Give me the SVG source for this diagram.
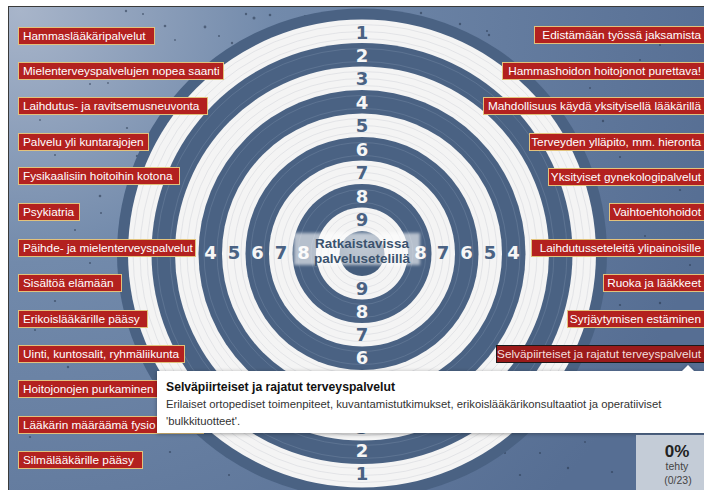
<svg xmlns="http://www.w3.org/2000/svg" width="704" height="490" viewBox="0 0 704 490">
<defs>
<radialGradient id="bg" cx="20" cy="10" r="720" gradientUnits="userSpaceOnUse">
<stop offset="0" stop-color="#a8b5ca"/>
<stop offset="0.35" stop-color="#728aab"/>
<stop offset="1" stop-color="#566e93"/>
</radialGradient>
<radialGradient id="core" cx="362" cy="240" r="26" gradientUnits="userSpaceOnUse">
<stop offset="0" stop-color="#6b819c"/>
<stop offset="1" stop-color="#455d7c"/>
</radialGradient>
<filter id="soft" x="-10%" y="-30%" width="120%" height="160%"><feGaussianBlur stdDeviation="1.6"/></filter>
<filter id="shadow" x="-5%" y="-20%" width="110%" height="150%"><feDropShadow dx="0" dy="1" stdDeviation="2" flood-color="#000" flood-opacity="0.35"/></filter>
<style>
.lbl rect{fill:#b3211f;stroke:#e2c27c;stroke-width:1}
.lbl text{font-family:"Liberation Sans",Arial,sans-serif;font-size:11.8px;fill:#ffffff}
.sel rect{fill:#9b1a1a;stroke:#1a1a1a;stroke-width:1}
.sel text{font-family:"Liberation Sans",Arial,sans-serif;font-size:11.8px;fill:#f3dede}
.r text{text-anchor:end}
.dk{fill:#4a6283}
.wt{fill:#f4f4f4}
.num{font-family:"DejaVu Sans",Verdana,sans-serif;font-weight:bold;font-size:18px;text-anchor:middle}
.nd{fill:#4a6283}
.nw{fill:#f6f6f6}
.gw{fill:none;stroke:#c9cdd3;stroke-width:0.7;opacity:0.6}
.gd{fill:none;stroke:#6c819e;stroke-width:0.8;opacity:0.7}
.sp{fill:#26354a;opacity:0.55}
.tt{font-family:"Liberation Sans",Arial,sans-serif}
</style>
</defs>
<rect x="0" y="0" width="704" height="490" fill="#ffffff"/>
<rect x="8" y="6" width="700" height="490" fill="url(#bg)"/>
<g id="speckles">
<circle class="sp" cx="126" cy="11" r="1.2"/><circle class="sp" cx="143" cy="14" r="1"/><circle class="sp" cx="165" cy="26" r="1.3"/><circle class="sp" cx="205" cy="27" r="1.4"/><circle class="sp" cx="219" cy="36" r="1"/><circle class="sp" cx="175" cy="40" r="0.9"/><circle class="sp" cx="232" cy="43" r="1.2"/><circle class="sp" cx="90" cy="84" r="1"/><circle class="sp" cx="108" cy="83" r="0.9"/><circle class="sp" cx="127" cy="128" r="1.1"/><circle class="sp" cx="55" cy="155" r="1"/><circle class="sp" cx="137" cy="156" r="1.2"/><circle class="sp" cx="100" cy="196" r="1.3"/><circle class="sp" cx="101" cy="213" r="1"/><circle class="sp" cx="90" cy="263" r="1"/><circle class="sp" cx="55" cy="301" r="1.1"/><circle class="sp" cx="68" cy="367" r="1.2"/><circle class="sp" cx="30" cy="437" r="1.1"/><circle class="sp" cx="170" cy="452" r="1.1"/><circle class="sp" cx="229" cy="475" r="1"/><circle class="sp" cx="246" cy="14" r="1.2"/><circle class="sp" cx="254" cy="18" r="1.5"/><circle class="sp" cx="270" cy="15" r="1.3"/><circle class="sp" cx="305" cy="16" r="1.1"/><circle class="sp" cx="405" cy="14" r="1"/><circle class="sp" cx="421" cy="13" r="1.2"/><circle class="sp" cx="460" cy="24" r="1.2"/><circle class="sp" cx="487" cy="31" r="1"/><circle class="sp" cx="489" cy="35" r="1.2"/><circle class="sp" cx="590" cy="88" r="0.9"/><circle class="sp" cx="603" cy="121" r="1.2"/><circle class="sp" cx="620" cy="157" r="1"/><circle class="sp" cx="680" cy="190" r="1.1"/><circle class="sp" cx="645" cy="236" r="0.9"/><circle class="sp" cx="660" cy="303" r="1.2"/><circle class="sp" cx="620" cy="305" r="1.1"/><circle class="sp" cx="583" cy="340" r="1"/><circle class="sp" cx="540" cy="453" r="1"/><circle class="sp" cx="568" cy="468" r="1.2"/><circle class="sp" cx="612" cy="472" r="1.1"/><circle class="sp" cx="585" cy="442" r="0.9"/><circle class="sp" cx="505" cy="453" r="1"/><circle class="sp" cx="660" cy="45" r="1"/><circle class="sp" cx="40" cy="120" r="0.9"/><circle class="sp" cx="75" cy="230" r="1"/><circle class="sp" cx="35" cy="330" r="1"/><circle class="sp" cx="150" cy="420" r="1.1"/><circle class="sp" cx="640" cy="60" r="1"/><circle class="sp" cx="690" cy="265" r="1"/><circle class="sp" cx="630" cy="410" r="1"/><circle class="sp" cx="520" cy="475" r="1.1"/>
</g>
<g id="target">
<circle class="dk" cx="362" cy="253.5" r="245"/>
<circle class="wt" cx="362" cy="253.5" r="234"/>
<circle class="gw" cx="362" cy="253.5" r="229"/><circle class="gw" cx="362" cy="253.5" r="222"/><circle class="gw" cx="362" cy="253.5" r="215"/>
<circle class="dk" cx="362" cy="253.5" r="210.5"/>
<circle class="gd" cx="362" cy="253.5" r="205"/><circle class="gd" cx="362" cy="253.5" r="192"/>
<circle class="wt" cx="362" cy="253.5" r="187"/>
<circle class="gw" cx="362" cy="253.5" r="182"/><circle class="gw" cx="362" cy="253.5" r="175"/><circle class="gw" cx="362" cy="253.5" r="168"/>
<circle class="dk" cx="362" cy="253.5" r="163.5"/>
<circle class="gd" cx="362" cy="253.5" r="158"/><circle class="gd" cx="362" cy="253.5" r="145"/>
<circle class="wt" cx="362" cy="253.5" r="140"/>
<circle class="gw" cx="362" cy="253.5" r="135"/><circle class="gw" cx="362" cy="253.5" r="128"/><circle class="gw" cx="362" cy="253.5" r="121"/>
<circle class="dk" cx="362" cy="253.5" r="116.5"/>
<circle class="gd" cx="362" cy="253.5" r="111"/><circle class="gd" cx="362" cy="253.5" r="98"/>
<circle class="wt" cx="362" cy="253.5" r="93"/>
<circle class="gw" cx="362" cy="253.5" r="88"/><circle class="gw" cx="362" cy="253.5" r="81"/><circle class="gw" cx="362" cy="253.5" r="74"/>
<circle class="dk" cx="362" cy="253.5" r="69.5"/>
<circle class="gd" cx="362" cy="253.5" r="64"/><circle class="gd" cx="362" cy="253.5" r="51"/>
<circle class="wt" cx="362" cy="253.5" r="46"/>
<circle class="gw" cx="362" cy="253.5" r="41"/><circle class="gw" cx="362" cy="253.5" r="34"/><circle class="gw" cx="362" cy="253.5" r="27"/>
<circle fill="url(#core)" cx="362" cy="253.5" r="22.5"/>
</g>
<g id="numbers">
<text class="num nd" x="362" y="38.5">1</text>
<text class="num nw" x="362" y="62">2</text>
<text class="num nd" x="362" y="85">3</text>
<text class="num nw" x="362" y="108.5">4</text>
<text class="num nd" x="362" y="132">5</text>
<text class="num nw" x="362" y="155.5">6</text>
<text class="num nd" x="362" y="179">7</text>
<text class="num nw" x="362" y="202.5">8</text>
<text class="num nd" x="362" y="226">9</text>
<text class="num nd" x="362" y="295">9</text>
<text class="num nw" x="362" y="318">8</text>
<text class="num nd" x="362" y="341">7</text>
<text class="num nw" x="362" y="364">6</text>
<text class="num nd" x="362" y="434">3</text>
<text class="num nw" x="362" y="457">2</text>
<text class="num nd" x="362" y="480">1</text>
<text class="num nw" x="210.5" y="258.5">4</text>
<text class="num nd" x="234" y="258.5">5</text>
<text class="num nw" x="257.5" y="258.5">6</text>
<text class="num nd" x="281" y="258.5">7</text>
<text class="num nw" x="303.5" y="258.5">8</text>
<text class="num nw" x="420.5" y="258.5">8</text>
<text class="num nd" x="443" y="258.5">7</text>
<text class="num nw" x="466.5" y="258.5">6</text>
<text class="num nd" x="490" y="258.5">5</text>
<text class="num nw" x="513.5" y="258.5">4</text>
</g>
<g id="center">
<rect x="294" y="233" width="126" height="32" fill="#ffffff" opacity="0.6" filter="url(#soft)"/>
<text x="362" y="247.5" text-anchor="middle" font-family="Liberation Sans, Arial, sans-serif" font-weight="bold" font-size="13.5" fill="#3b536e">Ratkaistavissa</text>
<text x="362" y="263" text-anchor="middle" font-family="Liberation Sans, Arial, sans-serif" font-weight="bold" font-size="13.5" fill="#3b536e">palvelusetelillä</text>
</g>
<g id="l1" class="lbl"><rect x="18.5" y="27.5" width="136" height="17"/><text x="23" y="40">Hammaslääkäripalvelut</text></g>
<g id="l2" class="lbl"><rect x="18.5" y="62.5" width="205" height="17"/><text x="23" y="75">Mielenterveyspalvelujen nopea saanti</text></g>
<g id="l3" class="lbl"><rect x="18.5" y="97.5" width="189" height="17"/><text x="23" y="110">Laihdutus- ja ravitsemusneuvonta</text></g>
<g id="l4" class="lbl"><rect x="18.5" y="133.5" width="130" height="17"/><text x="23" y="146">Palvelu yli kuntarajojen</text></g>
<g id="l5" class="lbl"><rect x="18.5" y="167.5" width="161" height="17"/><text x="23" y="180">Fysikaalisiin hoitoihin kotona</text></g>
<g id="l6" class="lbl"><rect x="18.5" y="203.5" width="61" height="17"/><text x="23" y="216">Psykiatria</text></g>
<g id="l7" class="lbl"><rect x="18.5" y="239.5" width="177" height="17"/><text x="23" y="252">Päihde- ja mielenterveyspalvelut</text></g>
<g id="l8" class="lbl"><rect x="18.5" y="274.5" width="103" height="17"/><text x="23" y="287">Sisältöä elämään</text></g>
<g id="l9" class="lbl"><rect x="18.5" y="310.5" width="129" height="17"/><text x="23" y="323">Erikoislääkärille pääsy</text></g>
<g id="l10" class="lbl"><rect x="18.5" y="345.5" width="166" height="17"/><text x="23" y="358">Uinti, kuntosalit, ryhmäliikunta</text></g>
<g id="l11" class="lbl"><rect x="18.5" y="380.5" width="145" height="17"/><text x="23" y="393">Hoitojonojen purkaminen</text></g>
<g id="l12" class="lbl"><rect x="18.5" y="416.5" width="185" height="17"/><text x="23" y="429">Lääkärin määräämä fysio</text></g>
<g id="l13" class="lbl"><rect x="18.5" y="451.5" width="124" height="17"/><text x="23" y="464">Silmälääkärille pääsy</text></g>
<g id="r1" class="lbl r"><rect x="534.5" y="26.5" width="180" height="17"/><text x="701" y="39">Edistämään työssä jaksamista</text></g>
<g id="r2" class="lbl r"><rect x="502.5" y="62.5" width="212" height="17"/><text x="701" y="75">Hammashoidon hoitojonot purettava!</text></g>
<g id="r3" class="lbl r"><rect x="483.5" y="97.5" width="231" height="17"/><text x="701" y="110">Mahdollisuus käydä yksityisellä lääkärillä</text></g>
<g id="r4" class="lbl r"><rect x="529.5" y="133.5" width="185" height="17"/><text x="701" y="146">Terveyden ylläpito, mm. hieronta</text></g>
<g id="r5" class="lbl r"><rect x="548.5" y="168.5" width="166" height="17"/><text x="701" y="181">Yksityiset gynekologipalvelut</text></g>
<g id="r6" class="lbl r"><rect x="609.5" y="203.5" width="105" height="17"/><text x="701" y="216">Vaihtoehtohoidot</text></g>
<g id="r7" class="lbl r"><rect x="531.5" y="239.5" width="183" height="17"/><text x="701" y="252">Laihdutusseteleitä ylipainoisille</text></g>
<g id="r8" class="lbl r"><rect x="603.5" y="274.5" width="111" height="17"/><text x="701" y="287">Ruoka ja lääkkeet</text></g>
<g id="r9" class="lbl r"><rect x="567.5" y="310.5" width="147" height="17"/><text x="701" y="323">Syrjäytymisen estäminen</text></g>
<g id="r10" class="sel r"><rect x="496.5" y="345.5" width="218" height="17"/><text x="701" y="358">Selväpiirteiset ja rajatut terveyspalvelut</text></g>
<g id="tooltip">
<path d="M157 371 H682 L688 365 L694 371 H712 V433 H157 Z" fill="#ffffff" filter="url(#shadow)"/>
<text class="tt" x="166" y="391" font-weight="bold" font-size="12.2" fill="#111111">Selväpiirteiset ja rajatut terveyspalvelut</text>
<text class="tt" x="166" y="408" font-size="11.3" fill="#333333">Erilaiset ortopediset toimenpiteet, kuvantamistutkimukset, erikoislääkärikonsultaatiot ja operatiiviset</text>
<text class="tt" x="166" y="425" font-size="11.3" fill="#333333">'bulkkituotteet'.</text>
</g>
<g id="progress">
<rect x="636" y="435" width="70" height="56" fill="#c4ccd7"/>
<text class="tt" x="677" y="457" text-anchor="middle" font-weight="bold" font-size="17" fill="#222222">0%</text>
<text class="tt" x="677" y="470" text-anchor="middle" font-size="10.5" fill="#444444">tehty</text>
<text class="tt" x="678" y="484" text-anchor="middle" font-size="10.5" fill="#444444">(0/23)</text>
</g>
<rect x="8.5" y="6.5" width="700" height="490" fill="none" stroke="#3a3a3a" stroke-width="1"/>
</svg>
